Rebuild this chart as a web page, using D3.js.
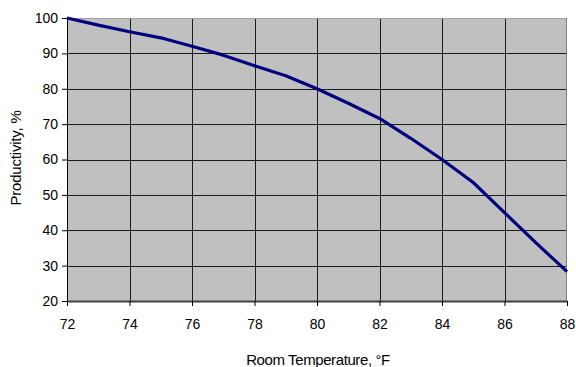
<!DOCTYPE html>
<html>
<head>
<meta charset="utf-8">
<script src="https://cdn.jsdelivr.net/npm/d3@7"></script>
<style>
  html, body { margin: 0; padding: 0; background: #fff; }
  svg { display: block; font-family: "Liberation Sans", Arial, sans-serif; }
</style>
</head>
<body>
<div id="chart"></div>
<script>
/* Productivity vs room temperature (Excel-style line chart) */
var temps = [72, 73, 74, 75, 76, 77, 78, 79, 80, 81, 82, 83, 84, 85, 86, 87, 88];
var productivity = [100, 98, 96.1, 94.4, 92, 89.5, 86.5, 83.7, 80, 75.9, 71.6, 66, 60, 53.5, 45, 36.5, 28.3];
var xTicks = [72, 74, 76, 78, 80, 82, 84, 86, 88];
var yTicks = [20, 30, 40, 50, 60, 70, 80, 90, 100];

(function () {
  var W = 576, H = 367;
  var m = { top: 18, right: 9, bottom: 66, left: 67 };
  var iw = W - m.left - m.right, ih = H - m.top - m.bottom;

  var svg = d3.select('#chart').append('svg').attr('width', W).attr('height', H);
  var g = svg.append('g').attr('transform', 'translate(' + m.left + ',' + m.top + ')');

  var x = d3.scaleLinear().domain([72, 88]).range([0, iw]);
  var y = d3.scaleLinear().domain([20, 100]).range([ih, 0]);

  /* plot background */
  g.append('rect').attr('width', iw).attr('height', ih).attr('fill', '#c0c0c0');

  /* gridlines */
  g.selectAll('.vg').data(xTicks.slice(1, -1)).enter().append('line')
    .attr('x1', function (d) { return Math.round(x(d)) + 0.5; })
    .attr('x2', function (d) { return Math.round(x(d)) + 0.5; })
    .attr('y1', 0).attr('y2', ih)
    .attr('stroke', '#1a1a1a').attr('stroke-width', 1);
  g.selectAll('.hg').data(yTicks.slice(1, -1)).enter().append('line')
    .attr('y1', function (d) { return Math.round(y(d)) + 0.5; })
    .attr('y2', function (d) { return Math.round(y(d)) + 0.5; })
    .attr('x1', 0).attr('x2', iw)
    .attr('stroke', '#1a1a1a').attr('stroke-width', 1);

  /* frame: top and right light grey */
  g.append('line').attr('x1', 0).attr('x2', iw).attr('y1', 0.5).attr('y2', 0.5)
    .attr('stroke', '#a0a0a0');
  g.append('line').attr('x1', iw - 0.5).attr('x2', iw - 0.5).attr('y1', 0).attr('y2', ih)
    .attr('stroke', '#808080');

  /* axes */
  var xAxis = d3.axisBottom(x).tickValues(xTicks).tickSizeInner(5).tickSizeOuter(0).tickPadding(13);
  var yAxis = d3.axisLeft(y).tickValues(yTicks).tickSizeInner(5).tickSizeOuter(0).tickPadding(4);

  var gx = g.append('g').attr('transform', 'translate(0,' + ih + ')').call(xAxis);
  gx.select('.domain').attr('stroke', '#404040').attr('stroke-width', 2);
  gx.selectAll('.tick line').attr('stroke', '#000');
  gx.selectAll('.tick text').style('font-size', '14px').attr('fill', '#000');

  var gy = g.append('g').call(yAxis);
  gy.select('.domain').attr('stroke', '#000').attr('stroke-width', 1);
  gy.selectAll('.tick line').attr('stroke', '#000');
  gy.selectAll('.tick text').style('font-size', '14px').attr('fill', '#000');

  /* data line */
  var line = d3.line()
    .x(function (d, i) { return x(temps[i]); })
    .y(function (d) { return y(d); });
  g.append('path').datum(productivity)
    .attr('d', line)
    .attr('fill', 'none')
    .attr('stroke', '#000080')
    .attr('stroke-width', 3.2)
    .attr('stroke-linejoin', 'round');

  /* axis titles */
  svg.append('text')
    .attr('x', 318).attr('y', 365)
    .attr('text-anchor', 'middle')
    .style('font-size', '15px').style('letter-spacing', '-0.4px')
    .text('Room Temperature, \u00b0F');

  svg.append('text')
    .attr('transform', 'translate(21,158) rotate(-90)')
    .attr('text-anchor', 'middle')
    .style('font-size', '15px').style('letter-spacing', '-0.2px')
    .text('Productivity, %');
})();
</script>
</body>
</html>
